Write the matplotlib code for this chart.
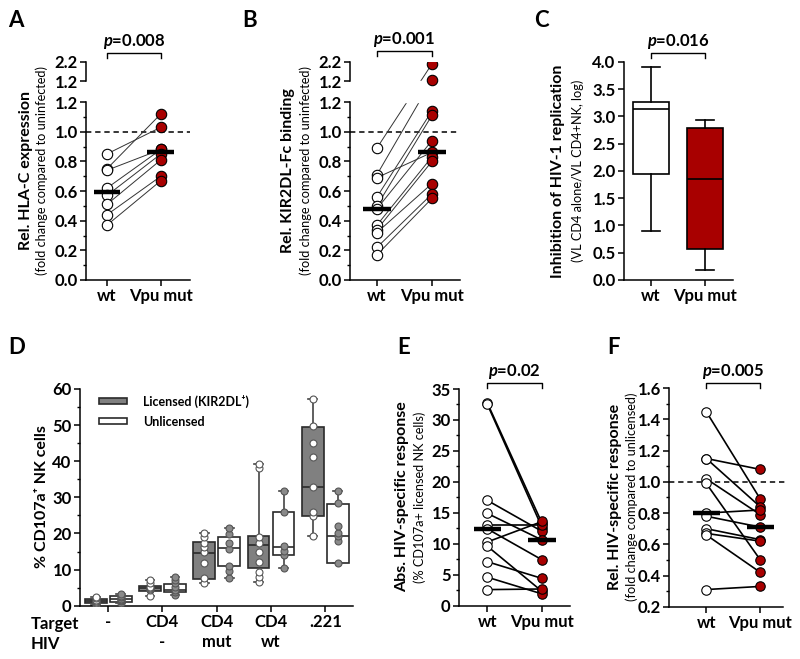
import numpy as np
import matplotlib
matplotlib.use("Agg")
import matplotlib.pyplot as plt
from matplotlib.transforms import blended_transform_factory
from matplotlib.patches import Patch

plt.rcParams['font.family'] = ['Lato', 'DejaVu Sans']
plt.rcParams['mathtext.fontset'] = 'custom'
plt.rcParams['mathtext.it'] = 'Lato:italic:bold'
plt.rcParams['mathtext.rm'] = 'Lato:bold'
plt.rcParams['mathtext.bf'] = 'Lato:bold'

# ---------------- data ----------------
pair_labels = ['wt', 'Vpu mut']

# Panel A: Rel. HLA-C expression
a_wt = [0.85, 0.75, 0.74, 0.62, 0.57, 0.51, 0.44, 0.37]
a_mut = [1.03, 1.12, 0.88, 0.88, 0.85, 0.81, 0.70, 0.67]
a_p = "0.008"

# Panel B: Rel. KIR2DL-Fc binding
b_wt = [0.89, 0.71, 0.69, 0.56, 0.50, 0.48, 0.37, 0.34, 0.32, 0.22, 0.17]
b_mut = [2.10, 1.25, 0.86, 1.14, 1.11, 0.94, 0.83, 0.80, 0.65, 0.58, 0.55]
b_p = "0.001"

# Panel C: box summary (min, Q1, median, Q3, max)
c_whislo = [0.90, 0.19]
c_q1 = [1.94, 0.57]
c_med = [3.13, 1.86]
c_q3 = [3.27, 2.78]
c_whishi = [3.90, 2.94]
c_p = "0.016"

# Panel D
d_target = ['-', 'CD4', 'CD4', 'CD4', '.221']
d_hiv = ['', '-', 'mut', 'wt', '']
d_lic_whislo = [0.2, 2.8, 6.4, 6.6, 19.3]
d_lic_q1 = [0.85, 4.2, 7.4, 10.5, 24.8]
d_lic_med = [1.2, 4.8, 14.6, 16.8, 33.0]
d_lic_q3 = [1.75, 5.5, 17.6, 19.3, 49.6]
d_lic_whishi = [2.3, 7.0, 20.2, 39.2, 57.3]
d_unl_whislo = [0.8, 3.0, 7.8, 10.4, 11.9]
d_unl_q1 = [1.1, 3.8, 10.9, 13.9, 11.9]
d_unl_med = [1.8, 4.4, 16.1, 16.2, 19.2]
d_unl_q3 = [2.6, 6.0, 19.1, 25.9, 28.2]
d_unl_whishi = [3.3, 7.9, 21.6, 31.8, 31.7]
d_lic_pts = [[0.2, 0.8, 1.1, 1.3, 1.6, 2.0, 2.3],
             [2.8, 4.3, 4.6, 4.9, 5.3, 6.4, 7.0],
             [6.4, 7.6, 11.9, 15.0, 16.3, 17.3, 18.9, 20.2],
             [6.6, 8.0, 9.4, 12.2, 15.0, 17.3, 19.1, 38.0, 39.2],
             [19.3, 24.8, 26.0, 32.8, 41.1, 45.1, 49.8, 57.3]]
d_unl_pts = [[0.8, 1.2, 1.6, 1.9, 2.3, 2.7, 3.3],
             [3.0, 3.9, 4.4, 5.3, 6.2, 7.1, 7.9],
             [7.8, 9.7, 10.9, 15.8, 17.4, 19.9, 21.6],
             [10.4, 14.0, 15.2, 16.5, 26.0, 31.8],
             [11.9, 18.0, 19.2, 20.2, 22.1, 28.3, 31.7]]
d_legend = ['Licensed (KIR2DL\u207a)', 'Unlicensed']

# Panel E
e_wt = [32.7, 32.5, 17.0, 14.9, 13.0, 12.4, 10.3, 9.6, 7.1, 4.6, 2.6]
e_mut = [13.3, 12.6, 12.0, 10.6, 13.0, 7.4, 13.6, 2.3, 4.4, 1.9, 2.7]
e_p = "0.02"

# Panel F
f_wt = [1.45, 1.15, 1.15, 1.02, 0.99, 0.80, 0.78, 0.70, 0.67, 0.66, 0.31]
f_mut = [0.89, 1.08, 0.84, 0.79, 0.50, 0.82, 0.71, 0.63, 0.62, 0.42, 0.33]
f_p = "0.005"

# ---------------- style ----------------
RED = '#A80000'
W, H = 800, 659
fig = plt.figure(figsize=(W / 100, H / 100), dpi=100)

TICK_FS = 12
MAIN_FS = 11.5
SUB_FS = 9.2


def add_ax(l, t, r, b):
    return fig.add_axes([l / W, 1 - b / H, (r - l) / W, (b - t) / H])


def ftext(x, y, s, **kw):
    return fig.text(x / W, 1 - y / H, s, **kw)


def set_bold_ticks(ax):
    for lab in ax.get_xticklabels() + ax.get_yticklabels():
        lab.set_fontweight('bold')


def base_style(ax):
    for s in ['top', 'right']:
        ax.spines[s].set_visible(False)
    for s in ['left', 'bottom']:
        ax.spines[s].set_linewidth(1.1)
    ax.tick_params(axis='both', which='major', direction='out', length=4,
                   width=1.1, labelsize=TICK_FS, pad=2)
    ax.tick_params(axis='both', which='minor', direction='out', length=2.3, width=1.0)
    set_bold_ticks(ax)


def ylabels(xmain, xsub, yc, main, sub):
    ftext(xmain, yc, main, rotation=90, ha='center', va='center',
          fontsize=MAIN_FS, fontweight='bold')
    if sub:
        ftext(xsub, yc, sub, rotation=90, ha='center', va='center', fontsize=SUB_FS)


def pval(ax, ybar_px, p):
    tr = blended_transform_factory(ax.transData, fig.transFigure)
    y0 = 1 - ybar_px / H
    y1 = 1 - (ybar_px + 5) / H
    ax.plot([0, 0, 1, 1], [y1, y0, y0, y1], color='k', lw=1.0, transform=tr, clip_on=False)
    ax.text(0.5, 1 - (ybar_px - 2) / H, r"$p$=" + p, transform=tr, ha='center',
            va='bottom', fontsize=TICK_FS, fontweight='bold')


def paired(ax, wt, mut, lc, lw, ms):
    for a, b in zip(wt, mut):
        ax.plot([0, 1], [a, b], color=lc, lw=lw, zorder=2)
    ax.plot(np.zeros(len(wt)), wt, 'o', mfc='white', mec='k', ms=ms, mew=0.8, zorder=3)
    ax.plot(np.ones(len(mut)), mut, 'o', mfc=RED, mec='k', ms=ms, mew=0.8, zorder=3)
    for x, d in [(0, wt), (1, mut)]:
        ax.plot([x - 0.25, x + 0.25], [np.median(d)] * 2, color='k', lw=3.2,
                solid_capstyle='butt', zorder=4)
    ax.set_xticks([0, 1])
    ax.set_xticklabels(pair_labels)


# broken axis scale for A and B
G = 21 / 148.3
K = 19 / 148.3


def fwd(v):
    v = np.asarray(v, dtype=float)
    return np.where(v <= 1.2, v, 1.2 + G + (v - 1.2) * K)


def inv(t):
    t = np.asarray(t, dtype=float)
    return np.where(t <= 1.2, t, np.where(t < 1.2 + G, 1.2, 1.2 + (t - 1.2 - G) / K))


def broken_panel(ax, wt, mut, xlim):
    ax.set_yscale('function', functions=(fwd, inv))
    ax.set_ylim(0, 2.2)
    ax.set_xlim(*xlim)
    ax.spines['left'].set_visible(False)
    ytr = ax.get_yaxis_transform()
    ax.plot([0, 0], [0, 1.2], color='k', lw=1.1, transform=ytr, clip_on=False, zorder=5)
    ax.plot([0, 0], [1.2 + 1e-6, 2.2], color='k', lw=1.1, transform=ytr, clip_on=False, zorder=5)
    ax.axhline(1.0, color='k', lw=1.1, ls=(0, (3.5, 2.5)), zorder=1)
    paired(ax, wt, mut, '#333333', 0.7, 7.5)
    ax.axhspan(1.2, 1.2 + 1e-6, color='white', zorder=2.5)
    major = [0, 0.2, 0.4, 0.6, 0.8, 1.0, 1.2, 1.2 + 1e-6, 2.2]
    ax.set_yticks(major)
    ax.set_yticklabels(['0.0', '0.2', '0.4', '0.6', '0.8', '1.0', '1.2', '1.2', '2.2'])
    ax.set_yticks([0.1, 0.3, 0.5, 0.7, 0.9, 1.1], minor=True)
    base_style(ax)


# ---------------- Panel A ----------------
axA = add_ax(86, 62, 190, 280)
broken_panel(axA, a_wt, a_mut, (-0.39, 1.54))
pval(axA, 53, a_p)
ylabels(26, 42, 171, 'Rel. HLA-C expression', '(fold change compared to uninfected)')

# ---------------- Panel B ----------------
axB = add_ax(350, 62, 460, 280)
broken_panel(axB, b_wt, b_mut, (-0.49, 1.51))
pval(axB, 51, b_p)
ylabels(288, 306, 171, 'Rel. KIR2DL-Fc binding', '(fold change compared to uninfected)')

# ---------------- Panel C ----------------
axC = add_ax(624, 62, 733, 280)
stats = []
for i in range(2):
    stats.append(dict(med=c_med[i], q1=c_q1[i], q3=c_q3[i],
                      whislo=c_whislo[i], whishi=c_whishi[i], label=pair_labels[i]))
bp = axC.bxp(stats, positions=[0, 1], widths=0.67, capwidths=0.34, patch_artist=True,
             showfliers=False,
             boxprops=dict(linewidth=1.2, edgecolor='k'),
             whiskerprops=dict(linewidth=1.2, color='k'),
             capprops=dict(linewidth=1.2, color='k'),
             medianprops=dict(linewidth=1.2, color='k'))
bp['boxes'][0].set_facecolor('white')
bp['boxes'][1].set_facecolor(RED)
axC.set_xlim(-0.5, 1.52)
axC.set_ylim(0, 4.0)
axC.set_yticks(np.arange(0, 4.01, 0.5))
axC.set_yticklabels([f"{v:.1f}" for v in np.arange(0, 4.01, 0.5)])
base_style(axC)
pval(axC, 53, c_p)
ylabels(558, 578, 171, 'Inhibition of HIV-1 replication', '(VL CD4 alone/VL CD4+NK, log)')

# ---------------- Panel D ----------------
axD = add_ax(80, 389, 353, 605.7)
gpos = np.arange(len(d_target))
off = 0.23
lic_stats = [dict(med=d_lic_med[i], q1=d_lic_q1[i], q3=d_lic_q3[i],
                  whislo=d_lic_whislo[i], whishi=d_lic_whishi[i]) for i in range(5)]
unl_stats = [dict(med=d_unl_med[i], q1=d_unl_q1[i], q3=d_unl_q3[i],
                  whislo=d_unl_whislo[i], whishi=d_unl_whishi[i]) for i in range(5)]
EC = '#2a2a2a'
common = dict(widths=0.4, capwidths=0.16, patch_artist=True, showfliers=False,
              whiskerprops=dict(linewidth=1.2, color='#444444'),
              capprops=dict(linewidth=1.2, color='#444444'),
              medianprops=dict(linewidth=1.2, color=EC), manage_ticks=False)
b1 = axD.bxp(lic_stats, positions=gpos - off,
             boxprops=dict(linewidth=1.2, edgecolor=EC, facecolor='#808080'), **common)
b2 = axD.bxp(unl_stats, positions=gpos + off,
             boxprops=dict(linewidth=1.2, edgecolor=EC, facecolor='white'), **common)
for i in range(5):
    axD.plot(np.full(len(d_lic_pts[i]), gpos[i] - off), d_lic_pts[i], 'o', mfc='white',
             mec='#555555', mew=0.8, ms=5, zorder=4)
    axD.plot(np.full(len(d_unl_pts[i]), gpos[i] + off), d_unl_pts[i], 'o', mfc='#8a8a8a',
             mec='#555555', mew=0.8, ms=5, zorder=4)
axD.set_xlim(-0.52, 4.51)
axD.set_ylim(0, 60)
axD.set_yticks(np.arange(0, 61, 10))
axD.set_yticks(np.arange(5, 60, 10), minor=True)
axD.set_xticks(gpos)
axD.set_xticklabels([f"{t}\n{h}" for t, h in zip(d_target, d_hiv)], linespacing=1.32)
base_style(axD)
axD.tick_params(axis='x', pad=2)
ftext(31, 624, 'Target', ha='left', va='center', fontsize=TICK_FS, fontweight='bold')
ftext(31, 644, 'HIV', ha='left', va='center', fontsize=TICK_FS, fontweight='bold')
handles = [Patch(facecolor='#808080', edgecolor=EC, lw=1.2),
           Patch(facecolor='white', edgecolor=EC, lw=1.2)]
axD.legend(handles, d_legend, loc='upper left', bbox_to_anchor=(0.07, 0.975),
           frameon=False, handlelength=2.2, handleheight=0.42, handletextpad=1.35,
           labelspacing=0.65, borderpad=0, borderaxespad=0,
           prop={'weight': 'bold', 'size': 9})
ylabels(42, 60, 497, '% CD107a\u207a NK cells', '')

# ---------------- Panel E ----------------
axE = add_ax(459, 389, 570, 605.7)
paired(axE, e_wt, e_mut, 'k', 1.2, 6.8)
axE.set_xlim(-0.52, 1.51)
axE.set_ylim(0, 35)
axE.set_yticks(np.arange(0, 36, 5))
axE.set_yticks(np.arange(2.5, 35, 5), minor=True)
base_style(axE)
pval(axE, 383, e_p)
ylabels(402, 420, 497, 'Abs. HIV-specific response', '(% CD107a+ licensed NK cells)')

# ---------------- Panel F ----------------
axF = add_ax(669, 388.3, 783, 606.7)
axF.axhline(1.0, xmax=1.03, color='k', lw=1.1, ls=(0, (3.5, 2.5)), zorder=1, clip_on=False)
paired(axF, f_wt, f_mut, 'k', 1.2, 6.8)
axF.set_xlim(-0.69, 1.42)
axF.set_ylim(0.2, 1.6)
axF.set_yticks(np.arange(0.2, 1.61, 0.2))
axF.set_yticklabels([f"{v:.1f}" for v in np.arange(0.2, 1.61, 0.2)])
axF.set_yticks(np.arange(0.3, 1.6, 0.2), minor=True)
base_style(axF)
pval(axF, 383, f_p)
ylabels(615, 632, 497, 'Rel. HIV-specific response', '(fold change compared to unlicensed)')

# ---------------- panel letters ----------------
for x, y, s in [(8, 10, 'A'), (242, 10, 'B'), (534, 10, 'C'),
                (8, 337, 'D'), (397, 337, 'E'), (607, 337, 'F')]:
    ftext(x, y, s, ha='left', va='top', fontsize=16, fontweight='bold')

fig.savefig('out.png', dpi=100)
